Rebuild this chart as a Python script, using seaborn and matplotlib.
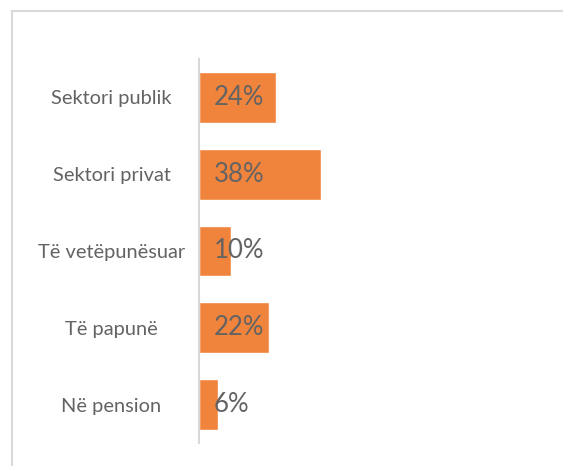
import matplotlib
matplotlib.use("Agg")
import matplotlib.pyplot as plt
import seaborn as sns
import pandas as pd
from matplotlib.patches import Rectangle

categories = ["Sektori publik", "Sektori privat", "Të vetëpunësuar", "Të papunë", "Në pension"]
values = [24, 38, 10, 22, 6]
value_labels = ["24%", "38%", "10%", "22%", "6%"]

sns.set_theme(style="white")
plt.rcParams['font.family'] = ['Lato', 'DejaVu Sans']

W, H = 563, 466
fig = plt.figure(figsize=(W / 100, H / 100), dpi=100)
fig.patch.set_facecolor("white")

ax_left, ax_right = 199, 553
ax_top, ax_bottom = 59, 443
ax = fig.add_axes([ax_left / W, (H - ax_bottom) / H, (ax_right - ax_left) / W, (ax_bottom - ax_top) / H])

df = pd.DataFrame({"cat": categories, "val": values})
sns.barplot(data=df, y="cat", x="val", orient="h", color="#F1843C", saturation=1,
            width=0.664, ax=ax)

ax.set_xlim(0, (ax_right - ax_left) / 3.2)
ax.set_ylim(len(categories) - 0.5, -0.5)
ax.set_xlabel("")
ax.set_ylabel("")
ax.set_xticks([])

for s in ["top", "right", "bottom"]:
    ax.spines[s].set_visible(False)
ax.spines["left"].set_color("#D9D9D9")
ax.spines["left"].set_linewidth(1.5)

ax.tick_params(axis="y", length=0, pad=63, labelsize=14.4, labelcolor="#636363")
for lbl in ax.get_yticklabels():
    lbl.set_ha("center")

for bar, txt in zip(ax.patches, value_labels):
    ax.annotate(txt, xy=(0, bar.get_y() + bar.get_height() / 2),
                xytext=(15, 0), textcoords="offset pixels",
                ha="left", va="center", fontsize=18.5, color="#636363")

fig.patches.append(Rectangle((12 / W, -0.1), 1.2, (H - 11) / H + 0.1,
                             transform=fig.transFigure, fill=False,
                             edgecolor="#D9D9D9", linewidth=1.5, zorder=0))

fig.savefig("out.png", dpi=100, facecolor="white")
